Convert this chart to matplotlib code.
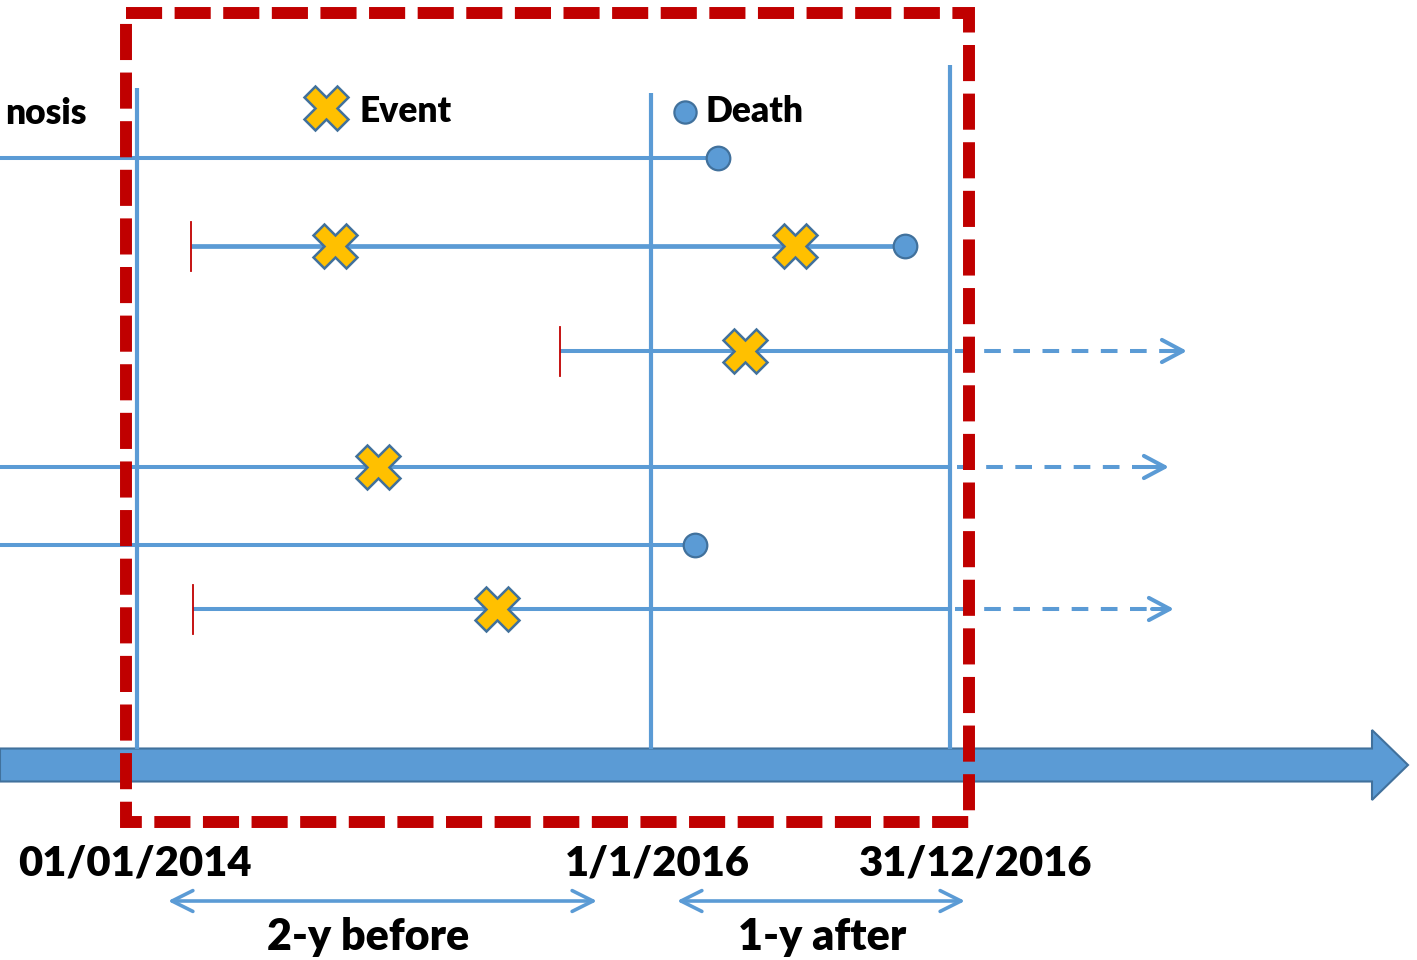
import matplotlib
matplotlib.use('Agg')
import matplotlib.pyplot as plt
from matplotlib.patches import FancyArrow, Rectangle

plt.rcParams['font.family'] = ['Lato', 'DejaVu Sans']
plt.rcParams['lines.scale_dashes'] = False

BLUE = '#5B9BD5'
EDGE = '#41719C'
RED = '#C00000'
GOLD = '#FFC000'
FW = 'heavy'

# ---- data (x = position on the drawn timeline, y = row) ----
rows = [158, 246, 351, 467, 545, 609]
entry = [0, 191, 560, 0, 0, 193]            # 0 = diagnosed before the window
entry_tick = [False, True, True, False, False, True]
exit_ = [708, 905, 948, 950, 684, 948]
death = [718, 905, None, None, 695, None]
events = [[], [335, 795], [745], [378], [], [497]]
followup_end = [None, None, 1187, 1169, None, 1174]

ref_x = [137, 651, 950]
ref_top = [88, 93, 65]
date_labels = ['01/01/2014', '1/1/2016', '31/12/2016']
date_x = [135, 657, 976]

period_labels = ['2-y before', '1-y after']
period_start = [168, 677]
period_end = [597, 965]
period_text_x = [368, 822]

window = (126, 13, 969, 822)  # left, top, right, bottom of study window box
axis_y = 765

fig = plt.figure(figsize=(14.17, 9.6), dpi=100)
ax = fig.add_axes([0, 0, 1, 1])
ax.set_xlim(0, 1417)
ax.set_ylim(960, 0)
ax.axis('off')

# main time axis arrow
ax.add_patch(FancyArrow(0, axis_y, 1408, 0, width=33, head_width=70, head_length=36,
                        length_includes_head=True, facecolor=BLUE, edgecolor=EDGE,
                        linewidth=1.5, zorder=2))

# reference vertical lines
for x, t in zip(ref_x, ref_top):
    ax.plot([x, x], [t, axis_y - 16], color=BLUE, lw=3, zorder=3, solid_capstyle='butt')

# patient lines
for i, y in enumerate(rows):
    lw = 3.4 if i == 1 else 2.9
    ax.plot([entry[i], exit_[i]], [y, y], color=BLUE, lw=lw, zorder=4, solid_capstyle='butt')
    if entry_tick[i]:
        ax.plot([entry[i], entry[i]], [y - 24, y + 25], color=RED, lw=1.3, zorder=5)
    if followup_end[i] is not None:
        tip = followup_end[i]
        ax.plot([exit_[i] + 7, tip - 4], [y, y], color=BLUE, lw=2.9, zorder=4,
                dashes=(12, 9), solid_capstyle='butt', dash_capstyle='butt')
        ax.annotate('', xy=(tip, y), xytext=(tip - 22, y),
                    arrowprops=dict(arrowstyle='->,head_length=1.5,head_width=0.8',
                                    color=BLUE, lw=2.9, shrinkA=0, shrinkB=0),
                    zorder=5)
    for ex in events[i]:
        ax.plot(ex, y, marker='X', ms=32, mfc=GOLD, mec=EDGE, mew=1.8, zorder=7)
    if death[i] is not None:
        ax.plot(death[i], y, marker='o', ms=17, mfc=BLUE, mec=EDGE, mew=1.6, zorder=7)

# study window (red dashed box)
l, t, r, b = window
ax.add_patch(Rectangle((l, t), r - l, b - t, fill=False, edgecolor=RED, lw=8.6,
                       linestyle=(0, (26, 9)), zorder=8, joinstyle='miter'))

# legend
ax.plot(326, 108, marker='X', ms=32, mfc=GOLD, mec=EDGE, mew=1.8, zorder=7)
ax.text(360, 122, 'Event', fontsize=25.5, fontweight=FW, va='baseline', ha='left', zorder=9)
ax.plot(685, 112, marker='o', ms=16, mfc=BLUE, mec=EDGE, mew=1.6, zorder=7)
ax.text(706, 122, 'Death', fontsize=25.5, fontweight=FW, va='baseline', ha='left', zorder=9)
ax.text(87, 124, 'nosis', fontsize=25.5, fontweight=FW, va='baseline', ha='right', zorder=9)

# date labels
for lab, x in zip(date_labels, date_x):
    ax.text(x, 876, lab, fontsize=30, fontweight=FW, va='baseline', ha='center', zorder=9)

# period arrows
for lab, s, e, tx in zip(period_labels, period_start, period_end, period_text_x):
    ax.annotate('', xy=(e, 901), xytext=(s, 901),
                arrowprops=dict(arrowstyle='<->,head_length=1.5,head_width=0.75',
                                color=BLUE, lw=2.6, shrinkA=0, shrinkB=0))
    ax.text(tx, 950, lab, fontsize=31, fontweight=FW, va='baseline', ha='center', zorder=9)

fig.savefig('out.png', dpi=100, facecolor='white')
